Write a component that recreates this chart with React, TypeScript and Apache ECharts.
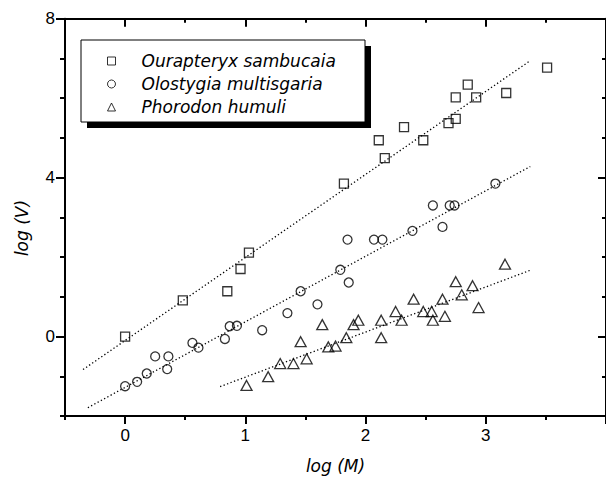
import React, { useEffect, useRef } from "react";
import * as echarts from "echarts";

// ---- data ----
const seriesNames = ["Ourapteryx sambucaia", "Olostygia multisgaria", "Phorodon humuli"];
const seriesSymbols = ["rect", "circle", "triangle"];

const sqX = [0, 0.48, 0.85, 0.96, 1.03, 1.82, 2.11, 2.16, 2.32, 2.48, 2.69, 2.75, 2.75, 2.85, 2.92, 3.17, 3.51];
const sqY = [0, 0.91, 1.14, 1.7, 2.11, 3.85, 4.94, 4.49, 5.27, 4.94, 5.37, 5.48, 6.02, 6.34, 6.02, 6.13, 6.77];

const ciX = [0, 0.1, 0.18, 0.25, 0.35, 0.36, 0.56, 0.61, 0.83, 0.87, 0.93, 1.14, 1.35, 1.46, 1.6, 1.79, 1.85, 1.86, 2.07, 2.14, 2.39, 2.56, 2.64, 2.7, 2.74, 3.08];
const ciY = [-1.25, -1.14, -0.93, -0.5, -0.82, -0.5, -0.16, -0.28, -0.06, 0.26, 0.27, 0.16, 0.59, 1.14, 0.81, 1.68, 2.44, 1.36, 2.44, 2.44, 2.66, 3.3, 2.76, 3.3, 3.3, 3.85];

const trX = [1.01, 1.19, 1.29, 1.4, 1.46, 1.51, 1.64, 1.69, 1.75, 1.84, 1.9, 1.94, 2.13, 2.13, 2.25, 2.3, 2.4, 2.48, 2.55, 2.56, 2.64, 2.66, 2.75, 2.8, 2.89, 2.94, 3.16];
const trY = [-1.23, -1.01, -0.68, -0.68, -0.13, -0.56, 0.3, -0.26, -0.24, -0.03, 0.3, 0.41, 0.41, -0.03, 0.63, 0.41, 0.94, 0.63, 0.63, 0.41, 0.94, 0.51, 1.38, 1.05, 1.28, 0.73, 1.82];

// linear fits: y = intercept + slope * x, drawn from start to end
const fitSlopes = [2.09, 1.65, 1.135];
const fitIntercepts = [-0.1, -1.28, -2.157];
const fitStarts = [-0.35, -0.31, 0.79];
const fitEnds = [3.36, 3.37, 3.38];

const xTickLabels = [0, 1, 2, 3];
const xMajorTicks = [0, 1, 2, 3, 4];
const yTickLabels = [0, 4, 8];

const xName = "log (M)";
const yName = "log (V)";

const AXIS_FONT = "Liberation Sans, Arial, sans-serif";
const ITALIC_FONT = "DejaVu Sans, sans-serif";

export default function App() {
  const ref = useRef<HTMLDivElement>(null);

  useEffect(() => {
    if (!ref.current) return;
    const chart = echarts.init(ref.current, undefined, { renderer: "svg" });

    const xs = [sqX, ciX, trX];
    const ys = [sqY, ciY, trY];
    const sizes: any[] = [9, 9, [11, 10]];

    const scatterSeries = seriesNames.map((name, i) => ({
      name,
      type: "scatter",
      xAxisIndex: 0,
      yAxisIndex: 0,
      symbol: seriesSymbols[i],
      symbolSize: sizes[i],
      data: xs[i].map((x, k) => [x, ys[i][k]]),
      itemStyle: { color: "rgba(255,255,255,0)", borderColor: "#000", borderWidth: 1.3 },
      z: 3,
    }));

    const fitSeries = fitSlopes.map((s, i) => ({
      name: "fit" + i,
      type: "line",
      xAxisIndex: 0,
      yAxisIndex: 0,
      showSymbol: false,
      silent: true,
      data: [
        [fitStarts[i], fitIntercepts[i] + s * fitStarts[i]],
        [fitEnds[i], fitIntercepts[i] + s * fitEnds[i]],
      ],
      lineStyle: { color: "#000", width: 1.3, type: [1.3, 2.4] },
      z: 2,
    }));

    const line = { show: true, onZero: false, lineStyle: { color: "#000", width: 2 } };
    const noLine = { show: false, onZero: false };
    const tickStyle = { color: "#000", width: 2 };

    const grid = { left: 65, top: 18.7, width: 544.6, height: 399 };

    const baseX = { type: "value", min: -0.5, max: 4, interval: 0.5, gridIndex: 0, splitLine: { show: false } };
    const baseY = { type: "value", min: -2, max: 8, interval: 1, gridIndex: 0, splitLine: { show: false } };

    const option: any = {
      animation: false,
      backgroundColor: "#fff",
      grid,
      legend: {
        data: seriesNames,
        orient: "vertical",
        left: 107,
        top: 51,
        padding: 0,
        itemGap: 3,
        itemWidth: 8,
        itemHeight: 8,
        z: 10,
        selectedMode: false,
        textStyle: {
          fontFamily: ITALIC_FONT,
          fontStyle: "italic",
          fontSize: 17,
          color: "#000",
          lineHeight: 20,
          padding: [0, 0, 0, 21],
        },
        itemStyle: { color: "rgba(255,255,255,0)", borderColor: "#000", borderWidth: 1 },
      },
      graphic: [
        {
          type: "group",
          id: "legendBox",
          z: 5,
          children: [
            { type: "rect", id: "legendShadow", z: 5, shape: { x: 87, y: 46, width: 284, height: 82 }, style: { fill: "#000" } },
            { type: "rect", id: "legendFrame", z: 6, shape: { x: 81, y: 40, width: 284, height: 82 }, style: { fill: "#fff", stroke: "#000", lineWidth: 1 } },
          ],
        },
        {
          type: "text",
          id: "yName",
          x: 22,
          y: 228,
          rotation: Math.PI / 2,
          z: 5,
          style: {
            text: yName,
            align: "center",
            verticalAlign: "middle",
            fontFamily: ITALIC_FONT,
            fontStyle: "italic",
            fontSize: 17,
            fill: "#000",
          },
        },
      ],
      xAxis: [
        {
          ...baseX,
          position: "bottom",
          axisLine: line,
          axisTick: { show: true, length: 4, lineStyle: tickStyle },
          axisLabel: {
            show: true,
            customValues: xTickLabels,
            margin: 11,
            fontFamily: AXIS_FONT,
            fontSize: 17,
            color: "#000",
            formatter: (v: number) => (xTickLabels.includes(v) ? String(v) : ""),
          },
          name: xName,
          nameLocation: "middle",
          nameGap: 41,
          nameTextStyle: { fontFamily: ITALIC_FONT, fontStyle: "italic", fontSize: 17, color: "#000" },
        },
        {
          ...baseX,
          position: "bottom",
          axisLine: noLine,
          axisTick: { show: true, length: 8, customValues: xMajorTicks, lineStyle: tickStyle },
          axisLabel: { show: false },
        },
        {
          ...baseX,
          position: "top",
          axisLine: line,
          axisTick: { show: true, inside: true, length: 4, lineStyle: tickStyle },
          axisLabel: { show: false },
        },
        {
          ...baseX,
          position: "top",
          axisLine: noLine,
          axisTick: { show: true, inside: true, length: 8, customValues: xMajorTicks, lineStyle: tickStyle },
          axisLabel: { show: false },
        },
      ],
      yAxis: [
        {
          ...baseY,
          position: "left",
          axisLine: line,
          axisTick: { show: true, length: 5, lineStyle: tickStyle },
          axisLabel: {
            show: true,
            customValues: yTickLabels,
            margin: 10,
            fontFamily: AXIS_FONT,
            fontSize: 17,
            color: "#000",
            formatter: (v: number) => (yTickLabels.includes(v) ? String(v) : ""),
          },
        },
        {
          ...baseY,
          position: "left",
          axisLine: noLine,
          axisTick: { show: true, length: 9, customValues: yTickLabels, lineStyle: tickStyle },
          axisLabel: { show: false },
        },
        {
          ...baseY,
          position: "right",
          axisLine: line,
          axisTick: { show: true, inside: true, length: 4, lineStyle: tickStyle },
          axisLabel: { show: false },
        },
        {
          ...baseY,
          position: "right",
          axisLine: noLine,
          axisTick: { show: true, inside: true, length: 8, customValues: yTickLabels, lineStyle: tickStyle },
          axisLabel: { show: false },
        },
      ],
      series: [...fitSeries, ...scatterSeries],
    };

    chart.setOption(option);
    return () => {
      chart.dispose();
    };
  }, []);

  return (
    <div
      ref={ref}
      style={{ position: "fixed", left: 0, top: 0, width: 606, height: 479, background: "#fff" }}
    />
  );
}
